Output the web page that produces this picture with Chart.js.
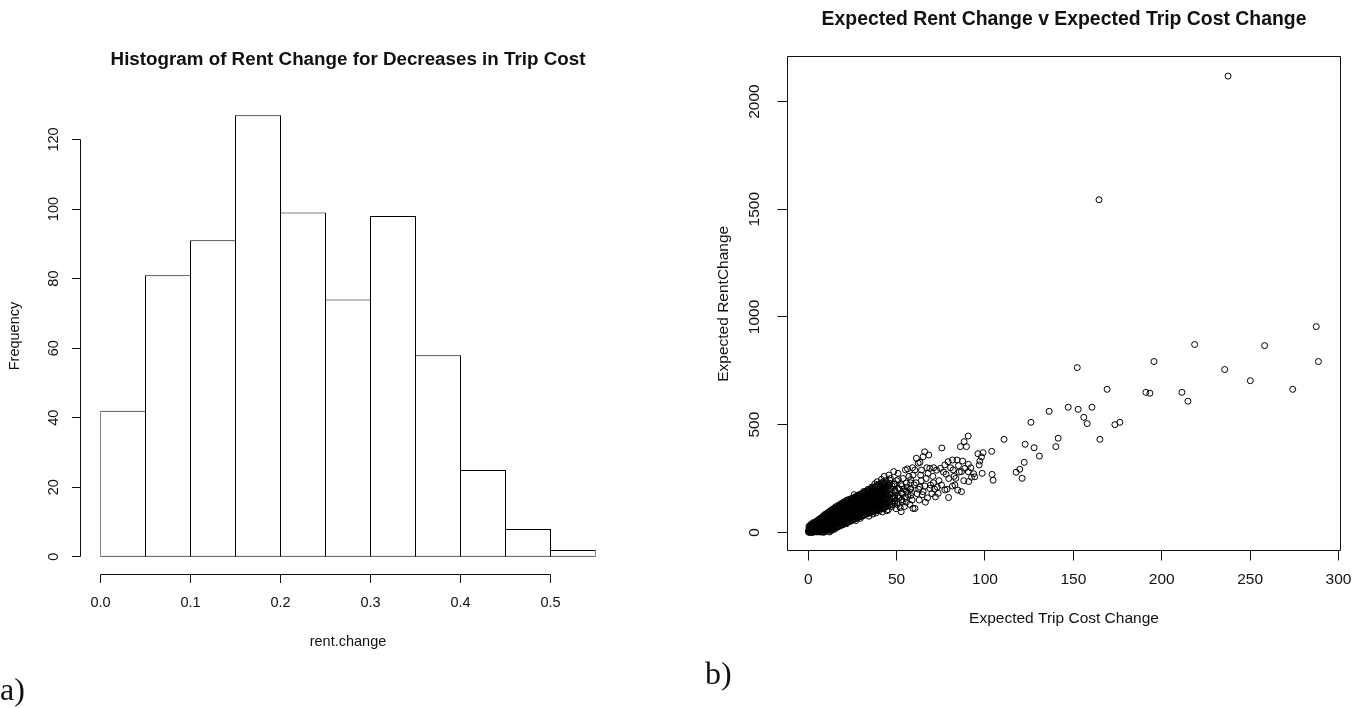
<!DOCTYPE html>
<html>
<head>
<meta charset="utf-8">
<title>Rent change vs trip cost change</title>
<script src="https://cdn.jsdelivr.net/npm/chart.js@4.4.1/dist/chart.umd.min.js"></script>
<style>
  html, body { margin: 0; padding: 0; background: #fff; }
  #page { position: relative; width: 1359px; height: 708px; overflow: hidden; }
  #page canvas { position: absolute; top: 0; }
  #histCanvas { left: 0; }
  #scatterCanvas { left: 680px; }
  .panel-tag {
    position: absolute;
    font-family: 'Liberation Serif', 'DejaVu Serif', serif;
    font-size: 32px;
    line-height: 32px;
    color: #111;
  }
</style>
</head>
<body>
<div id="page">
  <canvas id="histCanvas" width="680" height="708"></canvas>
  <canvas id="scatterCanvas" width="679" height="708"></canvas>
  <div class="panel-tag" style="left:0px; top:673px">a)</div>
  <div class="panel-tag" style="left:705px; top:657px">b)</div>
</div>
<script>
// ---- histogram: rent.change for decreases in trip cost ----
var binWidth = 0.05;
var binStarts = [0, 0.05, 0.10, 0.15, 0.20, 0.25, 0.30, 0.35, 0.40, 0.45, 0.50];
var binCounts = [42, 81, 91, 127, 99, 74, 98, 58, 25, 8, 2];
var histXTicks = [0, 0.1, 0.2, 0.3, 0.4, 0.5];
var histXTickLabels = ['0.0', '0.1', '0.2', '0.3', '0.4', '0.5'];
var histYTicks = [0, 20, 40, 60, 80, 100, 120];
var histYTickLabels = ['0', '20', '40', '60', '80', '100', '120'];

// ---- scatter: expected rent change v expected trip cost change ----
var scatterXTicks = [0, 50, 100, 150, 200, 250, 300];
var scatterXTickLabels = ['0', '50', '100', '150', '200', '250', '300'];
var scatterYTicks = [0, 500, 1000, 1500, 2000];
var scatterYTickLabels = ['0', '500', '1000', '1500', '2000'];

// [trip cost change, rent change]
var nearOrigin = [
  [0.2,1],[0.5,4],[0.8,0],[1.1,7],[1.4,2],[1.7,12],[2.0,5],[2.3,0],[2.6,16],[2.9,9],
  [3.2,3],[3.5,21],[3.8,13],[4.1,6],[4.4,26],[4.7,18],[5.0,9],[0.6,14],[1.9,22],[3.0,30],
  [4.2,36],[0.3,8],[1.2,18],[2.2,25],[3.4,11],[4.6,2],[5.3,40],[0.9,25],[2.8,38],[4.0,45],
  [5.5,3],[5.8,15],[6.1,28],[6.4,8],[6.7,44],[7.0,20],[7.3,2],[7.6,35],[7.9,52],[8.2,12],
  [8.5,26],[8.8,60],[9.1,40],[9.4,5],[9.7,18],[10.0,48],[6.0,55],[7.1,62],[8.0,70],[9.2,30],
  [5.7,36],[6.9,10],[8.7,0],[9.9,65],[6.3,20],[7.7,25],[9.5,55],[8.4,42]
];
var lowerBand = [
  [10.3,8],[10.6,30],[10.9,58],[11.2,18],[11.5,75],[11.8,42],[12.1,2],[12.4,62],[12.7,28],[13.0,85],
  [13.3,48],[13.6,14],[13.9,70],[14.2,36],[14.5,95],[14.8,55],[11.0,90],[12.9,40],[14.0,22],[10.8,45],
  [12.2,80],[13.7,60],[11.6,25],[14.6,78],
  [15.1,30],[15.4,62],[15.7,100],[16.0,45],[16.3,82],[16.6,26],[16.9,115],[17.2,58],[17.5,90],[17.8,38],
  [18.1,72],[18.4,125],[18.7,50],[19.0,100],[19.3,65],[19.6,35],[19.9,85],[15.8,75],[17.0,108],[18.2,88],
  [16.4,54],[19.5,120],[18.8,42],[15.3,48],
  [20.2,48],[20.5,95],[20.8,130],[21.1,70],[21.4,110],[21.7,40],[22.0,150],[22.3,85],[22.6,120],[22.9,60],
  [23.2,100],[23.5,140],[23.8,75],[24.1,52],[24.4,115],[24.7,90],[25.0,155],[21.0,140],[23.0,80],[24.5,135],
  [20.6,65],[22.5,105],[24.0,68],[21.5,90],
  [25.3,60],[25.6,100],[25.9,135],[26.2,80],[26.5,160],[26.8,115],[27.1,70],[27.4,145],[27.7,95],[28.0,120],
  [28.3,170],[28.6,80],[28.9,140],[29.2,105],[29.5,65],[29.8,155],[26.0,175],[27.5,125],[29.0,90],[25.8,150],
  [28.5,100],[27.0,55]
];
var upperBand = [
  [30.2,75],[30.5,120],[30.8,165],[31.1,95],[31.4,190],[31.7,140],[32.0,80],[32.3,110],[32.6,175],[32.9,130],
  [33.2,90],[33.5,155],[33.8,200],[34.1,115],[34.4,75],[34.7,170],[35.0,140],[31.0,150],[32.5,100],[34.0,185],
  [30.7,100],[33.0,165],[34.6,95],
  [35.3,95],[35.6,160],[35.9,210],[36.2,120],[36.5,85],[36.8,185],[37.1,140],[37.4,105],[37.7,225],[38.0,165],
  [38.3,90],[38.6,130],[38.9,200],[39.2,150],[39.5,110],[39.8,180],[36.0,145],[37.5,120],[39.0,235],[38.5,100],
  [35.7,130],[37.0,200],
  [40.2,100],[40.5,150],[40.8,215],[41.1,125],[41.4,246],[41.7,175],[42.0,95],[42.3,140],[42.6,200],[42.9,165],
  [43.2,115],[43.5,230],[43.8,185],[44.1,130],[44.4,100],[44.7,210],[45.0,160],[41.0,190],[43.0,260],[44.0,240],
  [40.7,120],[42.5,110],
  [45.3,105],[45.7,266],[46.1,243],[46.5,250],[46.9,200],[47.3,120],[47.7,165],[48.4,282],[48.5,225],[48.9,145],
  [49.3,190],[49.7,110],[50.0,240],[46.0,140],[45.8,220],[47.5,135],[49.0,170],
  [50.4,130],[50.8,274],[51.2,160],[51.6,200],[52.0,115],[52.4,225],[52.6,96],[52.8,180],[53.2,140],[53.6,250],
  [54.0,200],[54.4,120],[54.8,165],[55.0,290],[51.0,245],
  [55.5,140],[56.0,210],[56.5,175],[57.0,260],[57.5,130],[58.0,230],[58.5,185],[59.0,300],[59.3,266],[59.3,111],
  [60.0,220],[56.2,295],[57.8,200],[58.8,150]
];
// the solid core of the cloud, one row per trip-cost value: [x, y, y, ...]
var coreColumns = [
  [0.4, 3, 16, 28],
  [1.3, 0, 11, 21, 35],
  [2.1, 6, 17, 31, 40],
  [3.0, 1, 14, 23, 37, 46],
  [3.8, 8, 20, 30, 44],
  [4.7, 4, 14, 28, 38, 52],
  [5.5, 10, 23, 33, 47, 57],
  [6.4, 2, 15, 25, 39, 49, 63],
  [7.2, 7, 18, 32, 42, 56, 66],
  [8.1, 3, 16, 26, 40, 50, 64, 73],
  [8.9, 9, 20, 34, 44, 58, 68, 79],
  [9.8, 5, 18, 28, 42, 52, 66, 76, 85],
  [10.6, 12, 23, 38, 49, 63, 73, 87],
  [11.5, 6, 20, 31, 46, 57, 72, 83, 94],
  [12.3, 13, 27, 38, 53, 64, 79, 90, 99],
  [13.2, 9, 23, 34, 49, 60, 75, 86, 98, 105],
  [14.0, 17, 28, 43, 54, 69, 80, 95, 108],
  [14.9, 14, 26, 41, 52, 67, 78, 93, 103, 114],
  [15.7, 21, 35, 46, 61, 72, 87, 98, 111, 119],
  [16.6, 25, 36, 51, 62, 77, 88, 103, 114, 124],
  [17.4, 28, 43, 55, 71, 83, 99, 111, 122],
  [18.3, 31, 46, 58, 74, 86, 102, 114, 128, 133],
  [19.1, 36, 48, 64, 76, 92, 104, 120, 131],
  [20.0, 38, 53, 65, 81, 93, 109, 121, 135, 141],
  [20.8, 43, 55, 71, 83, 99, 111, 127, 138],
  [21.7, 45, 60, 72, 88, 100, 116, 128, 142, 148],
  [22.5, 49, 61, 77, 89, 105, 117, 133, 144],
  [23.4, 51, 66, 78, 94, 106, 122, 134, 148, 154],
  [24.2, 55, 67, 83, 95, 111, 123, 139, 150],
  [25.1, 57, 72, 84, 100, 112, 128, 140, 154, 160],
  [25.9, 61, 73, 89, 101, 117, 129, 145, 157],
  [26.8, 63, 78, 90, 106, 118, 134, 146, 160, 165],
  [27.6, 67, 79, 95, 107, 123, 135, 151, 163, 170],
  [28.5, 69, 84, 96, 112, 124, 140, 152, 166, 173],
  [29.3, 73, 85, 101, 113, 129, 141, 157, 169, 177],
  [30.2, 75, 91, 104, 121, 134, 151, 164, 178],
  [31.0, 79, 92, 109, 122, 139, 152, 169, 183],
  [31.9, 81, 97, 110, 127, 140, 157, 170, 186],
  [32.7, 85, 98, 115, 128, 145, 158, 175, 190],
  [33.6, 87, 103, 116, 133, 146, 163, 176, 193],
  [34.4, 91, 104, 121, 134, 151, 164, 181, 196],
  [35.3, 92, 109, 123, 141, 155, 173, 187, 200],
  [36.1, 96, 110, 128, 142, 160, 174, 192, 205],
  [37.0, 97, 114, 128, 146, 160, 178, 192, 209],
  [37.8, 101, 115, 133, 147, 165, 179, 197, 213],
  [38.7, 102, 119, 133, 151, 165, 183, 197, 216],
  [39.5, 106, 120, 138, 152, 170, 184, 202, 220],
  [40.4, 107, 125, 140, 159, 174, 193, 208, 224],
  [41.2, 111, 126, 145, 160, 179, 194, 213, 228],
  [42.1, 112, 131, 147, 167, 183, 203, 219, 233],
  [43.0, 116, 132, 152, 168, 188, 204, 221],
  [43.9, 118, 137, 153, 173, 189, 209, 225],
  [44.8, 121, 139, 161, 179, 201, 219],
  [46.0, 126, 149, 176, 199, 228],
  [47.5, 129, 156, 184, 214],
  [49.0, 136, 159, 196, 224],
  [51.0, 139, 171, 204],
  [53.0, 151, 184, 216],
  [55.5, 159, 191, 229],
  [58.0, 171, 204, 244]
];
var midSpread = [
  [60.3,289],[60.4,111],[61.0,230],[61.2,344],[61.6,180],[62.2,321],[62.5,200],[62.8,150],[63.2,210],[63.6,266],
  [64.0,240],[64.1,289],[64.5,175],[65.0,351],[65.0,189],[65.9,374],[66.0,215],[66.3,140],[66.7,250],[67.1,300],
  [67.5,160],[67.8,274],[68.2,359],[68.8,297],[68.8,204],[69.2,220],[63.2,325],[70.0,180],
  [70.5,260],[70.8,230],[71.0,300],[71.5,200],[72.0,165],[72.6,289],[73.0,210],[73.5,181],[74.0,240],[74.8,297],
  [75.6,392],[75.4,220],[76.5,280],[77.3,313],[77.3,197],[78.0,270],[78.5,200],[79.1,328],[79.4,162],[79.5,250],
  [80.5,300],[81.6,336],[81.6,215],[82.0,290],[82.5,260],[83.0,220],[83.5,251],[84.2,336],[84.6,196],[85.0,310],
  [85.5,280],[86.1,398],[86.7,282],[86.7,189],[87.3,331],[88.0,240],[88.2,421],[88.6,297],[89.5,398],
  [90.5,447],[90.6,316],[90.5,282],[90.8,236],[92.0,300],[92.4,256],[93.6,272],[94.2,258],[96.0,365],[96.7,313],
  [97.1,331],[98.0,350],[98.4,274],[98.9,370],
  [103.8,376],[104.0,269],[104.6,242],[110.8,432],[117.6,279],[119.7,293],[121.0,251],[122.2,325],[122.7,409],
  [126.0,511],[127.8,393],[130.8,354]
];
var upperTail = [
  [136.3,562],[140.1,398],[141.4,437],[147.1,581],[152.2,765],[152.7,571],[155.9,534],[157.8,505],[160.5,581],
  [165.0,432],[169.1,664],[173.5,500],[176.3,511],[191.0,650],[193.3,646],[195.6,793],[211.4,650],[214.8,609],
  [218.6,872],[235.6,756],[250.1,704],[258.2,867],[274.1,664],[287.4,955],[288.6,793],[164.5,1544],[237.5,2118]
];

var FONT = "'Liberation Sans', Arial, sans-serif";

// Base-graphics style axes: detached axis lines, outward ticks, rotated y labels
function makeRAxes(spec) {
  return {
    id: 'rAxes',
    afterDraw: function(chart) {
      var ctx = chart.ctx;
      var area = chart.chartArea;
      var ys = chart.scales.y;
      var xPix = function(v) { return spec.xPix(chart, v); };
      var yPix = function(v) { return ys.getPixelForValue(v); };
      var snap = function(p) { return Math.round(p - 0.5) + 0.5; };
      var left = xPix(spec.xRange[0]);
      var right = xPix(spec.xRange[1]);
      var top = area.top, bottom = area.bottom;

      ctx.save();
      ctx.lineWidth = 1;
      ctx.strokeStyle = '#111';
      ctx.fillStyle = '#111';

      ctx.beginPath();
      if (spec.box) {
        ctx.rect(snap(left), snap(top), Math.round(right - left), Math.round(bottom - top));
      }
      var bx = snap(bottom);
      ctx.moveTo(snap(xPix(spec.xTicks[0])), bx);
      ctx.lineTo(snap(xPix(spec.xTicks[spec.xTicks.length - 1])), bx);
      spec.xTicks.forEach(function(t) {
        var px = snap(xPix(t));
        ctx.moveTo(px, bx);
        ctx.lineTo(px, bx + spec.tickLen);
      });
      var lx = snap(left);
      ctx.moveTo(lx, snap(yPix(spec.yTicks[0])));
      ctx.lineTo(lx, snap(yPix(spec.yTicks[spec.yTicks.length - 1])));
      spec.yTicks.forEach(function(t) {
        var py = snap(yPix(t));
        ctx.moveTo(lx, py);
        ctx.lineTo(lx - spec.tickLen, py);
      });
      ctx.stroke();

      ctx.font = spec.fontSize + 'px ' + FONT;
      ctx.textAlign = 'center';
      ctx.textBaseline = 'middle';
      spec.xTicks.forEach(function(t, i) {
        ctx.fillText(spec.xTickLabels[i], xPix(t), bottom + spec.xLabelGap);
      });
      ctx.fillText(spec.xTitle, (left + right) / 2, bottom + spec.xTitleGap);

      spec.yTicks.forEach(function(t, i) {
        ctx.save();
        ctx.translate(left - spec.yLabelGap, yPix(t));
        ctx.rotate(-Math.PI / 2);
        ctx.fillText(spec.yTickLabels[i], 0, 0);
        ctx.restore();
      });
      ctx.save();
      ctx.translate(left - spec.yTitleGap, (top + bottom) / 2);
      ctx.rotate(-Math.PI / 2);
      ctx.fillText(spec.yTitle, 0, 0);
      ctx.restore();

      ctx.font = 'bold ' + spec.titleSize + 'px ' + FONT;
      ctx.fillText(spec.title, (left + right) / 2, spec.titleY);
      ctx.restore();
    }
  };
}

var baseOptions = {
  responsive: false,
  animation: false,
  events: [],
  plugins: { legend: { display: false }, tooltip: { enabled: false }, title: { display: false } }
};

// histogram: 11 bins of 45px starting on a half pixel so the outlines stay crisp
new Chart(document.getElementById('histCanvas'), {
  type: 'bar',
  data: {
    labels: binStarts.map(function(b) { return b.toFixed(2); }),
    datasets: [{
      data: binCounts,
      backgroundColor: '#ffffff',
      borderColor: '#000',
      borderWidth: 1,
      borderSkipped: false,
      categoryPercentage: 1,
      // one pixel wider than a bin so neighbouring borders overlap
      barPercentage: 46 / 45
    }]
  },
  options: Object.assign({}, baseOptions, {
    layout: { padding: { left: 100.5, right: 84.5, top: 97.5, bottom: 133.5 } },
    scales: {
      x: { type: 'category', display: false, offset: true, grid: { display: false } },
      y: { type: 'linear', display: false, min: -5.08, max: 132.08, grid: { display: false } }
    }
  }),
  plugins: [makeRAxes({
    title: 'Histogram of Rent Change for Decreases in Trip Cost',
    titleSize: 18.8, titleY: 60, fontSize: 14.5,
    xPix: function(chart, v) { return chart.scales.x.getPixelForValue(v / binWidth - 0.5); },
    xRange: [-0.022, 0.572],
    box: false, tickLen: 8.5,
    xTicks: histXTicks, xTickLabels: histXTickLabels, xLabelGap: 28.8, xTitleGap: 67.2,
    yTicks: histYTicks, yTickLabels: histYTickLabels, yLabelGap: 26.8, yTitleGap: 65.8,
    xTitle: 'rent.change', yTitle: 'Frequency'
  })]
});

// scatter
var corePoints = [];
coreColumns.forEach(function(col) {
  for (var i = 1; i < col.length; i++) corePoints.push([col[0], col[i]]);
});
var scatterPoints = [].concat(nearOrigin, lowerBand, corePoints, upperBand, midSpread, upperTail)
  .map(function(p) { return { x: p[0], y: p[1] }; });

new Chart(document.getElementById('scatterCanvas'), {
  type: 'scatter',
  data: {
    datasets: [{
      data: scatterPoints,
      pointStyle: 'circle',
      pointRadius: 3,
      pointHoverRadius: 3,
      borderWidth: 1,
      borderColor: '#000',
      backgroundColor: 'rgba(0,0,0,0)'
    }]
  },
  options: Object.assign({}, baseOptions, {
    layout: { padding: { left: 107.7, right: 18.7, top: 56.7, bottom: 157.1 } },
    scales: {
      x: { type: 'linear', display: false, min: -11.6, max: 301, grid: { display: false } },
      y: { type: 'linear', display: false, min: -86, max: 2208, grid: { display: false } }
    }
  }),
  plugins: [makeRAxes({
    title: 'Expected Rent Change v Expected Trip Cost Change',
    titleSize: 19.4, titleY: 19.3, fontSize: 15.5,
    xPix: function(chart, v) { return chart.scales.x.getPixelForValue(v); },
    xRange: [-11.6, 301],
    box: true, tickLen: 10,
    xTicks: scatterXTicks, xTickLabels: scatterXTickLabels, xLabelGap: 29, xTitleGap: 68,
    yTicks: scatterYTicks, yTickLabels: scatterYTickLabels, yLabelGap: 32.7, yTitleGap: 64.4,
    xTitle: 'Expected Trip Cost Change', yTitle: 'Expected RentChange'
  })]
});
</script>
</body>
</html>
